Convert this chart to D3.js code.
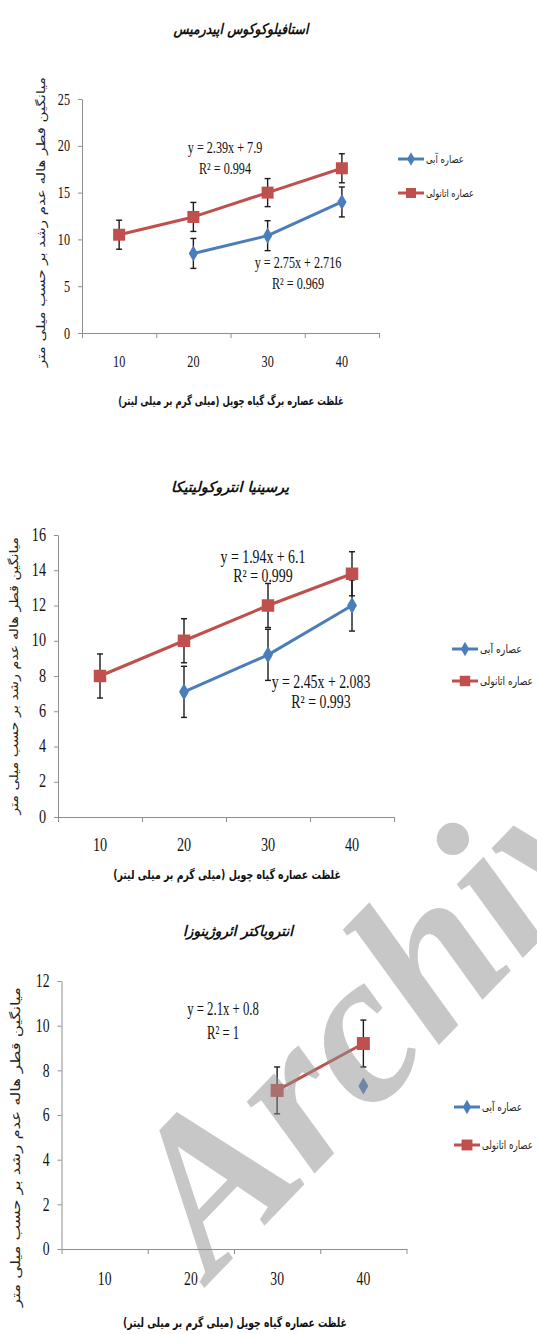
<!DOCTYPE html>
<html>
<head>
<meta charset="utf-8">
<script src="https://cdn.jsdelivr.net/npm/d3@7"></script>
<style>
  body { margin: 0; background: #fff; }
  svg { display: block; }
</style>
</head>
<body>
<svg id="fig" width="537" height="1334"></svg>
<script>
// Extract concentrations (mg/ml) shared by all three panels
const categories = ["10", "20", "30", "40"];
const seriesNames = ["عصاره آبی", "عصاره اتانولی"];
const yAxisTitle = "میانگین قطر هاله عدم رشد بر حسب میلی متر";

// Panel 1 – Staphylococcus epidermidis
const staphTitle = "استافیلوکوکوس اپیدرمیس";
const staphXTitle = "غلظت عصاره برگ گیاه چویل (میلی گرم بر میلی لیتر)";
const staphYTicks = [0, 5, 10, 15, 20, 25];
const staphAqueous = [null, 8.5, 10.4, 14.0];
const staphAqueousErr = [null, 1.6, 1.6, 1.6];
const staphEthanol = [10.5, 12.4, 15.0, 17.6];
const staphEthanolErr = [1.55, 1.55, 1.5, 1.55];
const staphAqueousFit = ["y = 2.75x + 2.716", "R² = 0.969"];
const staphEthanolFit = ["y = 2.39x + 7.9", "R² = 0.994"];

// Panel 2 – Yersinia enterocolitica
const yersTitle = "یرسینیا انتروکولیتیکا";
const yersXTitle = "غلظت عصاره گیاه چویل (میلی گرم بر میلی لیتر)";
const yersYTicks = [0, 2, 4, 6, 8, 10, 12, 14, 16];
const yersAqueous = [null, 7.1, 9.2, 12.0];
const yersAqueousErr = [null, 1.45, 1.45, 1.45];
const yersEthanol = [8.0, 10.0, 12.0, 13.8];
const yersEthanolErr = [1.25, 1.25, 1.25, 1.25];
const yersAqueousFit = ["y = 2.45x + 2.083", "R² = 0.993"];
const yersEthanolFit = ["y = 1.94x + 6.1", "R² = 0.999"];

// Panel 3 – Enterobacter aerogenes
const enteroTitle = "انتروباکتر ائروژینوزا";
const enteroXTitle = "غلظت عصاره گیاه چویل (میلی گرم بر میلی لیتر)";
const enteroYTicks = [0, 2, 4, 6, 8, 10, 12];
const enteroAqueous = [null, null, null, 7.3];
const enteroAqueousErr = [null, null, null, null];
const enteroEthanol = [null, null, 7.1, 9.2];
const enteroEthanolErr = [null, null, 1.05, 1.05];
const enteroAqueousFit = null;
const enteroEthanolFit = ["y = 2.1x + 0.8", "R² = 1"];

const panels = [
  { title: staphTitle, xTitle: staphXTitle, yTicks: staphYTicks,
    aqueous: staphAqueous, aqueousErr: staphAqueousErr, aqueousFit: staphAqueousFit,
    ethanol: staphEthanol, ethanolErr: staphEthanolErr, ethanolFit: staphEthanolFit },
  { title: yersTitle, xTitle: yersXTitle, yTicks: yersYTicks,
    aqueous: yersAqueous, aqueousErr: yersAqueousErr, aqueousFit: yersAqueousFit,
    ethanol: yersEthanol, ethanolErr: yersEthanolErr, ethanolFit: yersEthanolFit },
  { title: enteroTitle, xTitle: enteroXTitle, yTicks: enteroYTicks,
    aqueous: enteroAqueous, aqueousErr: enteroAqueousErr, aqueousFit: enteroAqueousFit,
    ethanol: enteroEthanol, ethanolErr: enteroEthanolErr, ethanolFit: enteroEthanolFit }
];

// Page geometry of each panel
const frames = [
  { x0: 82, x1: 379, yTop: 99, yBot: 333, num: 16, sx: 0.76, eqSx: 0.76,
    title: [241, 29, 135, 14.5], xTitle: [231, 400, 226, 12], yTitle: [41, 222, 290, 11.5],
    tickY: 361, legend: [398, 159, 193, 38, 48, 11], sq: 12, dia: 75,
    aqFit: [298, 262, 283], etFit: [225, 147, 168] },
  { x0: 58, x1: 394, yTop: 535, yBot: 817, num: 18, sx: 0.79, eqSx: 0.77,
    title: [230, 487, 118, 14.5], xTitle: [227, 875, 228, 12.5], yTitle: [14, 676, 278, 12],
    tickY: 845, legend: [452, 649, 681, 42, 53, 11.5], sq: 12.5, dia: 85,
    aqFit: [321, 682, 702], etFit: [263, 557, 576] },
  { x0: 61.5, x1: 406.5, yTop: 981, yBot: 1249, num: 19, sx: 0.72, eqSx: 0.67,
    title: [238, 931, 110, 14.5], xTitle: [235, 1323, 224, 12.5], yTitle: [15, 1147, 320, 12.5],
    tickY: 1279, legend: [454, 1107, 1145, 40, 51, 11.5], sq: 13, dia: 85,
    aqFit: null, etFit: [223, 1009, 1033] }
];

const BLUE = "#4a7ebb";
const RED = "#c0504d";
const AXIS = "#8e8e8e";
const SERIF = "'Liberation Serif','Times New Roman',serif";
const PERSIAN = "'DejaVu Sans', sans-serif";

const svg = d3.select("#fig");

function serifText(parent, x, y, str, size, sx, anchor) {
  return parent.append("text")
    .attr("transform", `translate(${x},${y}) scale(${sx},1)`)
    .attr("text-anchor", anchor)
    .attr("dominant-baseline", "central")
    .style("font-family", SERIF)
    .style("font-size", size + "px")
    .attr("fill", "#111")
    .text(str);
}

// Persian label squeezed horizontally to a given run length
function persianText(parent, x, y, str, size, width, opts = {}) {
  const t = parent.append("text")
    .attr("text-anchor", opts.anchor || "middle")
    .attr("dominant-baseline", "central")
    .style("font-family", PERSIAN)
    .style("font-size", size + "px")
    .style("font-weight", opts.bold ? "bold" : "normal")
    .style("font-style", opts.italic ? "italic" : "normal")
    .attr("fill", opts.fill || "#111")
    .text(str);
  const natural = t.node().getComputedTextLength() || width;
  const k = width / natural;
  t.attr("transform", `translate(${x},${y})` + (opts.rotate ? ` rotate(${opts.rotate})` : "") + ` scale(${k},1)`);
  return t;
}

function drawPanel(p, f) {
  const g = svg.append("g");
  const yMax = d3.max(p.yTicks);
  const x = d3.scaleBand().domain(categories).range([f.x0, f.x1]);
  const y = d3.scaleLinear().domain([0, yMax]).range([f.yBot, f.yTop]);
  const cx = c => x(c) + x.bandwidth() / 2;

  // value axis
  const yAx = g.append("g").attr("transform", `translate(${f.x0},0)`)
    .call(d3.axisLeft(y).tickValues(p.yTicks).tickSize(4).tickSizeOuter(0).tickFormat(""));
  yAx.selectAll("path,line").attr("stroke", AXIS).attr("stroke-width", 1);

  // category axis: ticks on the band boundaries
  const bounds = d3.scaleLinear().domain([0, categories.length]).range([f.x0, f.x1]);
  const xAx = g.append("g").attr("transform", `translate(0,${f.yBot})`)
    .call(d3.axisBottom(bounds).tickValues(d3.range(categories.length + 1)).tickSize(5).tickSizeOuter(0).tickFormat(""));
  xAx.selectAll("path,line").attr("stroke", AXIS).attr("stroke-width", 1);

  // tick labels
  p.yTicks.forEach(v => serifText(g, f.x0 - 12, y(v), String(v), f.num, f.sx, "end"));
  categories.forEach(c => serifText(g, cx(c), f.tickY, c, f.num, f.sx, "middle"));

  // titles
  persianText(g, f.title[0], f.title[1], p.title, f.title[3], f.title[2], { bold: true, italic: true });
  persianText(g, f.xTitle[0], f.xTitle[1], p.xTitle, f.xTitle[3], f.xTitle[2], { bold: true });
  persianText(g, f.yTitle[0], f.yTitle[1], yAxisTitle, f.yTitle[3], f.yTitle[2], { rotate: -90, fill: "#222" });

  const series = [
    { vals: p.aqueous, errs: p.aqueousErr, color: BLUE, shape: "diamond" },
    { vals: p.ethanol, errs: p.ethanolErr, color: RED, shape: "square" }
  ];

  const markerPath = (shape, scale) => shape === "square"
    ? d3.symbol(d3.symbolSquare, f.sq * f.sq * scale)()
    : d3.symbol(d3.symbolDiamond, f.dia * scale)();

  series.forEach(s => {
    const pts = categories.map((c, i) => ({ c, v: s.vals[i], e: s.errs[i] })).filter(d => d.v != null);
    if (pts.length > 1) {
      g.append("path")
        .attr("d", d3.line().x(d => cx(d.c)).y(d => y(d.v))(pts))
        .attr("fill", "none").attr("stroke", s.color).attr("stroke-width", 3)
        .attr("stroke-linejoin", "round").attr("stroke-linecap", "round");
    }
    pts.filter(d => d.e != null).forEach(d => {
      const eg = g.append("g").attr("stroke", "#1b1b1b").attr("stroke-width", 1.4);
      eg.append("line").attr("x1", cx(d.c)).attr("x2", cx(d.c)).attr("y1", y(d.v + d.e)).attr("y2", y(d.v - d.e));
      [d.v + d.e, d.v - d.e].forEach(v =>
        eg.append("line").attr("x1", cx(d.c) - 3).attr("x2", cx(d.c) + 3).attr("y1", y(v)).attr("y2", y(v)));
    });
    g.selectAll(null).data(pts).join("path")
      .attr("d", markerPath(s.shape, 1))
      .attr("transform", d => `translate(${cx(d.c)},${y(d.v)})`)
      .attr("fill", s.color);
  });

  // trendline equations
  [[p.ethanolFit, f.etFit], [p.aqueousFit, f.aqFit]].forEach(([txt, pos]) => {
    if (!txt || !pos) return;
    serifText(g, pos[0], pos[1], txt[0], f.num, f.eqSx, "middle");
    serifText(g, pos[0], pos[2], txt[1], f.num, f.eqSx, "middle");
  });

  // legend
  const [lx, ly1, ly2, w1, w2, ls] = f.legend;
  [[series[0], ly1, w1], [series[1], ly2, w2]].forEach(([s, ly, w], i) => {
    g.append("line").attr("x1", lx).attr("x2", lx + 26).attr("y1", ly).attr("y2", ly)
      .attr("stroke", s.color).attr("stroke-width", 3);
    g.append("path").attr("d", markerPath(s.shape, 0.7))
      .attr("transform", `translate(${lx + 13},${ly})`).attr("fill", s.color);
    persianText(g, lx + 28, ly, seriesNames[i], ls, w, { anchor: "start", fill: "#222" });
  });
}

panels.forEach((p, i) => drawPanel(p, frames[i]));

// archive stamp across the lower panels
svg.append("text")
  .attr("transform", "translate(212,1280) rotate(-46)")
  .style("font-family", SERIF)
  .style("font-weight", "bold")
  .style("font-style", "italic")
  .style("font-size", "215px")
  .attr("fill", "#8f8f8f")
  .attr("fill-opacity", 0.5)
  .text("Archive");
</script>
</body>
</html>
